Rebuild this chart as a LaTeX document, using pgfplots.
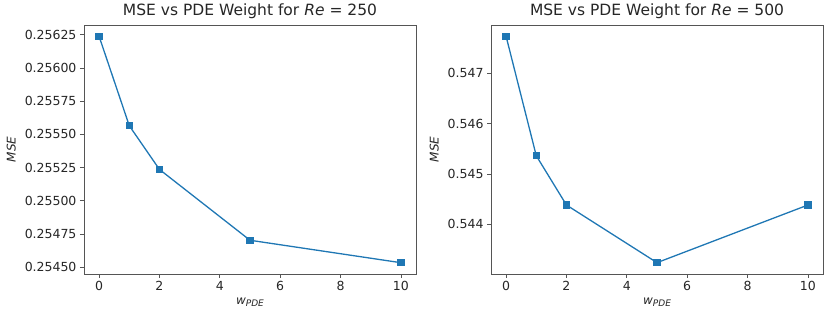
\documentclass[border=0pt]{standalone}
\usepackage{fontspec}
\setmainfont{DejaVu Sans}
\usepackage{pgfplots}
\pgfplotsset{compat=1.18}
\definecolor{cz}{HTML}{1F77B4}
\definecolor{framec}{HTML}{555555}
\pgfplotsset{
  mpl/.style={
    scale only axis, width=332pt, height=249pt,
    axis line style={framec, line width=0.9pt},
    tick style={framec, line width=0.8pt},
    tick align=outside, major tick length=4pt,
    xtick pos=bottom, ytick pos=left,
    /pgf/number format/assume math mode=true,
    ticklabel style={font=\fontsize{12.5}{14}\selectfont, text=black!85},
    title style={font=\fontsize{15.5}{18}\selectfont, text=black!85, yshift=-3pt},
    label style={font=\fontsize{12}{13}\selectfont, text=black!85},
    xmin=-0.5, xmax=10.5,
    xtick={0,2,4,6,8,10}, xticklabels={0,2,4,6,8,10},
    xlabel={\textit{w}\raisebox{-0.35ex}{\fontsize{9}{9}\selectfont\textit{PDE}}},
    ylabel={\textit{MSE}},
    xlabel style={yshift=0pt},
    ylabel style={yshift=2pt},
  },
  ser/.style={cz, line width=1.3pt, mark=square*, mark size=3pt, mark options={solid, fill=cz, draw=cz}},
}
\begin{document}
\begin{tikzpicture}[x=1pt,y=1pt]
\useasboundingbox (0,0) rectangle (830,316);
\begin{axis}[mpl, at={(84pt,42pt)}, anchor=south west,
  title={MSE vs PDE Weight for \textit{Re} = 250},
  ymin=0.254449, ymax=0.256323,
  ytick={0.2545,0.25475,0.255,0.25525,0.2555,0.25575,0.256,0.25625},
  yticklabels={0.25450,0.25475,0.25500,0.25525,0.25550,0.25575,0.25600,0.25625},
]
\addplot[ser] coordinates {(0,0.256238) (1,0.255565) (2,0.255236) (5,0.254703) (10,0.254534)};
\end{axis}
\begin{axis}[mpl, at={(491pt,42pt)}, anchor=south west,
  title={MSE vs PDE Weight for \textit{Re} = 500},
  ymin=0.543016, ymax=0.547958,
  ytick={0.544,0.545,0.546,0.547},
  yticklabels={0.544,0.545,0.546,0.547},
]
\addplot[ser] coordinates {(0,0.547733) (1,0.545363) (2,0.544385) (5,0.543241) (10,0.544385)};
\end{axis}
\end{tikzpicture}
\end{document}
